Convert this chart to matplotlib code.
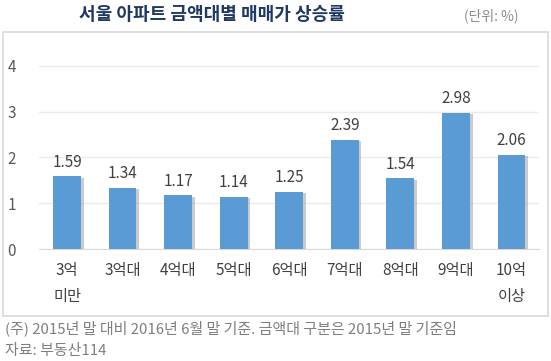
import matplotlib
matplotlib.use('Agg')
import matplotlib.pyplot as plt
import matplotlib.patheffects as pe
from matplotlib.patches import Rectangle

plt.rcParams['font.family'] = ['Noto Sans CJK KR', 'DejaVu Sans']

# data
labels = ['3억\n미만', '3억대', '4억대', '5억대', '6억대', '7억대', '8억대', '9억대', '10억\n이상']
values = [1.59, 1.34, 1.17, 1.14, 1.25, 2.39, 1.54, 2.98, 2.06]
yticks = [0, 1, 2, 3, 4]

fig = plt.figure(figsize=(5.51, 3.61), dpi=100)

# outer box
fig.patches.append(Rectangle((3/551, 1-316/361), 545/551, 284/361, transform=fig.transFigure,
                             fill=False, edgecolor='#D9D9D9', linewidth=1.2))

ax = fig.add_axes([0.0712, 0.3102, 0.9074, 0.571])
x = range(len(values))
bars = ax.bar(x, values, width=0.5, color='#5B9BD5', zorder=3)
for b in bars:
    b.set_path_effects([pe.SimplePatchShadow(offset=(2, -1), shadow_rgbFace='#999999', alpha=0.5), pe.Normal()])

for i, v in enumerate(values):
    ax.text(i, v + 0.12, f'{v:.2f}', ha='center', va='bottom', fontsize=11, color='#404040')

ax.set_xlim(-0.5, len(values) - 0.5)
ax.set_ylim(0, 4.5)
ax.set_yticks(yticks)
ax.set_yticklabels([str(t) for t in yticks], fontsize=11, color='#595959')
ax.set_xticks(list(x))
ax.set_xticklabels(labels, fontsize=11, color='#404040', linespacing=1.7, va='top')
ax.tick_params(axis='both', length=0)
ax.tick_params(axis='x', pad=9)
ax.tick_params(axis='y', pad=23)
for t in ax.get_yticklabels():
    t.set_ha('left')
ax.grid(axis='y', color='#EBEBEB', linewidth=1, zorder=0)
for s in ['top', 'right', 'left']:
    ax.spines[s].set_visible(False)
ax.spines['bottom'].set_color('#D9D9D9')

fig.text(212/551, 1-15/361, '서울 아파트 금액대별 매매가 상승률', ha='center', va='center',
         fontsize=13, fontweight='bold', color='#1F3864')
fig.text(519/551, 1-16/361, '(단위: %)', ha='right', va='center', fontsize=10, color='#8C8C8C')
fig.text(5/551, 1-328/361, '(주) 2015년 말 대비 2016년 6월 말 기준. 금액대 구분은 2015년 말 기준임',
         ha='left', va='center', fontsize=10.8, color='#7F7F7F')
fig.text(5/551, 1-351/361, '자료: 부동산114', ha='left', va='center', fontsize=10.8, color='#7F7F7F')

fig.savefig('out.png', dpi=100)
